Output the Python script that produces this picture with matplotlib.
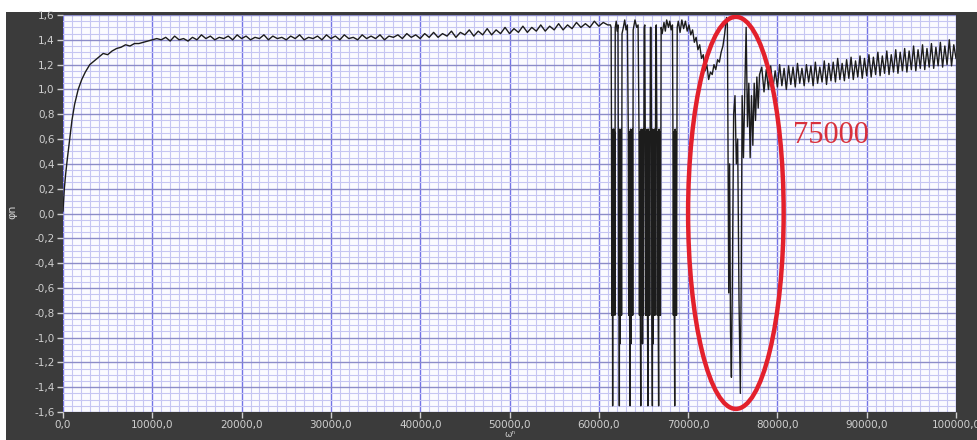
import numpy as np
import matplotlib
matplotlib.use("Agg")
import matplotlib.pyplot as plt
from matplotlib.patches import Ellipse, Rectangle

# ---------------- data ----------------
# start-up rise (x, y)
rise_x = [0, 150, 300, 500, 750, 1000, 1300, 1700, 2100, 2500, 3000, 3500, 4000,
          4500, 5000, 5500, 6000, 6500, 7000, 7500, 8000, 8500, 9000, 9500]
rise_y = [0.02, 0.20, 0.32, 0.45, 0.60, 0.75, 0.88, 1.00, 1.08, 1.14, 1.20, 1.23, 1.26,
          1.29, 1.28, 1.31, 1.33, 1.34, 1.36, 1.35, 1.37, 1.37, 1.38, 1.39]

# plateau, sampled every 500 from 10000 to 61000
plateau_x = list(range(10000, 61001, 500))
plateau_y = [1.40, 1.41, 1.40, 1.42, 1.39, 1.43, 1.40, 1.41, 1.39, 1.42,
             1.40, 1.44, 1.41, 1.43, 1.40, 1.42, 1.41, 1.43, 1.40, 1.44,
             1.41, 1.43, 1.40, 1.42, 1.41, 1.44, 1.40, 1.43, 1.41, 1.42,
             1.40, 1.43, 1.41, 1.44, 1.40, 1.42, 1.41, 1.43, 1.40, 1.44,
             1.41, 1.43, 1.40, 1.44, 1.41, 1.42, 1.40, 1.44, 1.41, 1.43,
             1.41, 1.44, 1.40, 1.43, 1.42, 1.44, 1.41, 1.45, 1.42, 1.44,
             1.41, 1.45, 1.42, 1.46, 1.42, 1.45, 1.43, 1.47, 1.42, 1.46,
             1.44, 1.48, 1.43, 1.47, 1.44, 1.49, 1.44, 1.48, 1.45, 1.50,
             1.45, 1.49, 1.46, 1.51, 1.46, 1.50, 1.47, 1.52, 1.47, 1.51,
             1.48, 1.53, 1.48, 1.52, 1.49, 1.54, 1.50, 1.53, 1.50, 1.55,
             1.51, 1.54, 1.52]

# switching region and the 75000 event (x, y)
event_x = [61300, 61380, 61420, 61460, 61500, 61550, 61590, 61630, 61670, 61710, 61750, 61800,
           61840, 61950, 62050, 62150,
           62180, 62220, 62260, 62300, 62340, 62380, 62420, 62460, 62500, 62550,
           62600, 62750, 62900, 63050, 63200,
           63300, 63350, 63400, 63450, 63500, 63550, 63600, 63650, 63700, 63750, 63800,
           63850, 64050, 64250, 64400,
           64500, 64550, 64600, 64650, 64700, 64750, 64800, 64850, 64900, 64950, 65000,
           65080, 65150,
           65200, 65250, 65300, 65350, 65400, 65450, 65500, 65550, 65600, 65650, 65700,
           65780, 65850,
           65900, 65950, 66000, 66050, 66100, 66150, 66200, 66250, 66300,
           66380, 66440,
           66500, 66550, 66600, 66650, 66700, 66750, 66800, 66850, 66900,
           66980, 67100, 67300, 67450, 67600, 67800, 67950, 68100, 68250,
           68300, 68350, 68400, 68450, 68500, 68550, 68600, 68650, 68700,
           68780, 68900, 69100, 69300, 69500, 69700, 69900, 70100, 70300, 70500,
           70700, 70900, 71100, 71300, 71500, 71700, 71900, 72100, 72300, 72500,
           72700, 72900, 73100, 73300, 73500, 73700, 73900, 74100, 74300, 74400,
           74550, 74650, 74750, 74850, 74950, 75100, 75250, 75400, 75550, 75700,
           75850, 75950, 76050, 76200, 76350, 76500, 76650, 76800, 76950, 77100,
           77250, 77400, 77550, 77700, 77850, 78000]
event_y = [1.52, 1.50, 0.68, -0.82, 0.66, -1.55, 0.68, -0.82, 0.68, -0.80, 0.66, -0.82,
           1.50, 1.55, 1.47, 1.52,
           0.68, -0.82, 0.66, -1.55, 0.68, -1.05, 0.66, -0.82, 0.68, -0.82,
           1.45, 1.50, 1.56, 1.48, 1.52,
           0.68, -0.82, 0.66, -0.82, -1.55, 0.68, -1.05, 0.66, -0.82, 0.68, -0.82,
           1.48, 1.56, 1.50, 1.52,
           0.68, -0.82, 0.66, -0.82, -1.55, 0.68, -0.82, 0.66, -1.05, 0.68, -0.82,
           1.50, 1.52,
           0.68, -0.82, 0.66, -0.82, 0.68, -0.82, -1.55, 0.68, -0.82, 0.66, -0.82,
           1.50, 1.50,
           0.68, -0.82, -1.55, 0.68, -1.05, 0.66, -0.82, 0.68, -0.82,
           1.50, 1.52,
           0.68, -0.82, 0.66, -0.82, -1.55, 0.68, -0.82, 0.66, -0.82,
           1.50, 1.45, 1.54, 1.47, 1.56, 1.50, 1.55, 1.48, 1.52,
           0.68, -0.82, 0.66, -0.82, -1.55, 0.68, -0.82, 0.66, -0.82,
           1.50, 1.55, 1.46, 1.56, 1.49, 1.55, 1.47, 1.52, 1.44, 1.48,
           1.38, 1.42, 1.32, 1.36, 1.25, 1.28, 1.15, 1.20, 1.08, 1.14,
           1.12, 1.20, 1.16, 1.24, 1.22, 1.30, 1.35, 1.45, 1.58, 1.52,
           -0.64, 0.40, -0.95, -1.32, -0.60, 0.80, 0.95, 0.40, 0.60, -0.70,
           -1.45, -0.50, 0.95, 0.45, 1.00, 1.50, 0.70, 1.05, 0.45, 0.95,
           0.55, 1.05, 0.75, 1.10, 0.85, 1.12]

# noisy tail, sampled every 250 from 78250 to 100000
tail_x = list(range(78250, 100001, 250))
tail_y = [1.18, 0.98, 1.16, 1.00, 1.19, 1.01, 1.15, 1.02, 1.20, 1.03,
          1.17, 1.00, 1.19, 1.04, 1.18, 1.02, 1.21, 1.05, 1.17, 1.03,
          1.20, 1.06, 1.19, 1.03, 1.22, 1.05, 1.18, 1.06, 1.23, 1.04,
          1.21, 1.07, 1.22, 1.06, 1.25, 1.08, 1.21, 1.07, 1.24, 1.09,
          1.26, 1.08, 1.23, 1.10, 1.27, 1.09, 1.25, 1.11, 1.28, 1.10,
          1.26, 1.12, 1.30, 1.11, 1.27, 1.13, 1.31, 1.12, 1.28, 1.14,
          1.32, 1.13, 1.30, 1.15, 1.33, 1.14, 1.31, 1.16, 1.35, 1.15,
          1.32, 1.17, 1.36, 1.16, 1.33, 1.18, 1.37, 1.17, 1.34, 1.19,
          1.38, 1.18, 1.35, 1.20, 1.40, 1.19, 1.36, 1.25]

x_ticks = [0, 10000, 20000, 30000, 40000, 50000, 60000, 70000, 80000, 90000, 100000]
x_tick_labels = ["0,0", "10000,0", "20000,0", "30000,0", "40000,0", "50000,0",
                 "60000,0", "70000,0", "80000,0", "90000,0", "100000,0"]
y_ticks = [-1.6, -1.4, -1.2, -1.0, -0.8, -0.6, -0.4, -0.2, 0.0,
           0.2, 0.4, 0.6, 0.8, 1.0, 1.2, 1.4, 1.6]
y_tick_labels = ["-1,6", "-1,4", "-1,2", "-1,0", "-0,8", "-0,6", "-0,4", "-0,2", "0,0",
                 "0,2", "0,4", "0,6", "0,8", "1,0", "1,2", "1,4", "1,6"]

annot_text = "75000"
annot_pos = (81700, 0.63)
ellipse_center = (75350, 0.005)
ellipse_size = (10700, 3.16)

# ---------------- plot ----------------
x = np.array(rise_x + plateau_x + event_x + tail_x, dtype=float)
y = np.array(rise_y + plateau_y + event_y + tail_y, dtype=float)

W, H = 977, 440
fig = plt.figure(figsize=(W / 100, H / 100), dpi=100, facecolor="white")
bg = Rectangle((6 / W, 0), 1 - 6 / W, (H - 12) / H, transform=fig.transFigure,
               facecolor="#3b3b3b", edgecolor="none", zorder=-5)
fig.patches.append(bg)

ax = fig.add_axes([63 / W, 28 / H, 893 / W, 397 / H])
ax.set_zorder(2)
ax.set_facecolor("#fbfbff")
ax.set_xlim(0, 100000)
ax.set_ylim(-1.6, 1.6)

ax.set_xticks(x_ticks)
ax.set_xticklabels(x_tick_labels)
ax.set_yticks(y_ticks)
ax.set_yticklabels(y_tick_labels)
ax.set_xticks(np.arange(0, 100001, 1000), minor=True)
ax.set_yticks(np.arange(-1.6, 1.6001, 0.05), minor=True)

ax.grid(which="minor", color="#c6c6f2", linewidth=0.8, zorder=0)
ax.grid(which="major", axis="x", color="#7474e6", linewidth=1.0, zorder=0)
ax.grid(which="major", axis="y", color="#8c8cc8", linewidth=1.0, zorder=0)
ax.set_axisbelow(True)

ax.tick_params(which="major", direction="out", length=4, width=1, color="#cfcfcf",
               labelcolor="#cfcfcf", labelsize=7.5, pad=2)
ax.tick_params(which="minor", length=0)
for s in ax.spines.values():
    s.set_visible(False)

ax.plot(x, y, color="#1c1c1c", linewidth=1.0, zorder=3)

ell = Ellipse(ellipse_center, ellipse_size[0], ellipse_size[1], fill=False,
              edgecolor="#e3202c", linewidth=3.2, zorder=4)
ax.add_patch(ell)
ax.text(annot_pos[0], annot_pos[1], annot_text, color="#d8303c", fontsize=22,
        family="Liberation Serif", va="center", ha="left", zorder=5)

fig.text(12 / W, 1 - 212 / H, "φn", rotation=90, color="#cfcfcf", fontsize=8,
         va="center", ha="center")
fig.text(510 / W, 1 / H, "ωⁿ", color="#cfcfcf", fontsize=6.5, va="bottom", ha="center")

fig.savefig("out.png", dpi=100, facecolor=fig.get_facecolor())
